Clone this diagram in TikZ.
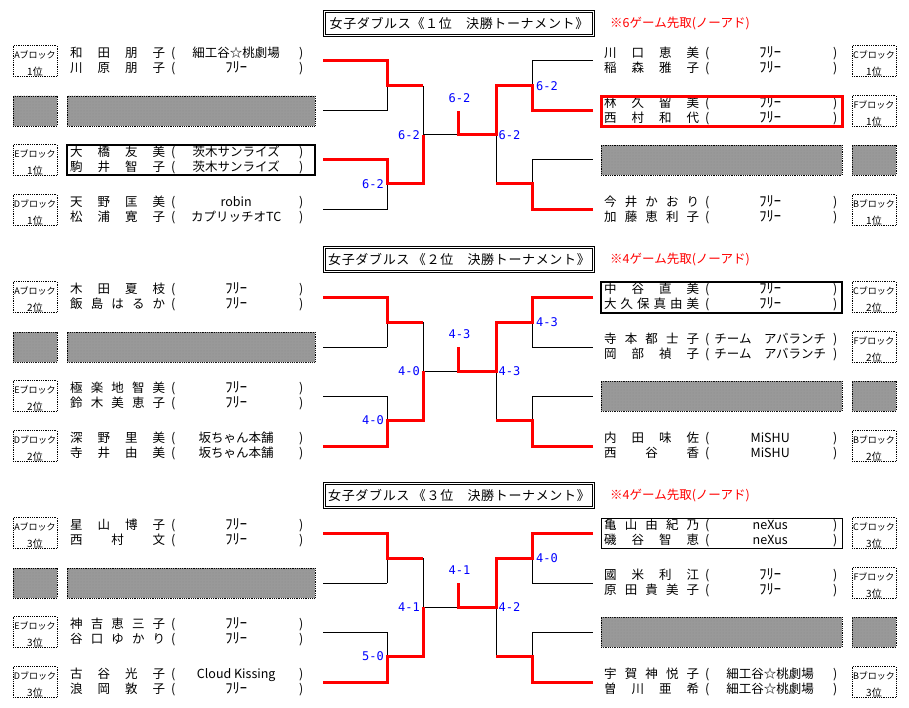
\documentclass[tikz,border=0pt]{standalone}
\usepackage{fontspec}
\usetikzlibrary{patterns}
\setmainfont{Noto Sans CJK JP}
\setmonofont{DejaVu Sans Mono}
\newfontfamily\ttlfont[LetterSpace=5]{Noto Sans CJK JP}

\definecolor{winred}{RGB}{255,0,0}
\definecolor{scoreblue}{RGB}{0,0,255}
\definecolor{slotgray}{RGB}{153,153,153}

\tikzset{
  lose/.style={line width=1pt},
  win/.style={line width=3pt, winred},
  blk/.style={draw, densely dotted, line width=0.8pt, minimum width=44pt, minimum height=29pt,
    inner sep=0pt, align=center, font=\fontsize{9}{17}\selectfont},
  slot/.style={draw, densely dotted, line width=0.8pt, fill=slotgray, minimum height=30pt, inner sep=0pt,
    postaction={pattern=dots, pattern color=black!45}},
  nm/.style={anchor=west, inner sep=0pt, font=\fontsize{12.5}{13}\selectfont},
  sco/.style={inner sep=0pt, text=scoreblue, font=\fontsize{12}{12}\ttfamily},
  ttl/.style={draw, double, double distance=1.5pt, line width=0.7pt, minimum width=269pt,
    minimum height=24pt, inner sep=0pt, font=\fontsize{13}{13}\ttlfont},
  memo/.style={anchor=west, inner sep=0pt, text=winred, font=\fontsize{12.5}{13}\selectfont},
  teambox/.style={draw, minimum width=241pt, minimum height=30pt, inner sep=0pt},
}

% half-width "free", set a little larger
\newcommand{\furi}{{\fontsize{14.5}{14}\selectfont ﾌﾘｰ}}
% one line of a pair: name, club
\newcommand{\entry}[2]{\makebox[95pt][s]{#1}\makebox[16pt]{(}\makebox[110pt]{#2}\makebox[20pt]{)}}
% a pair: id, left x, centre y, name1, club1, name2, club2
\newcommand{\team}[7]{%
  \node[nm] (#1a) at ({#2+3},{#3-7.5}) {\entry{#4}{#5}};
  \node[nm] (#1b) at ({#2+3},{#3+7.5}) {\entry{#6}{#7}};
}

\begin{document}
\begin{tikzpicture}[x=1pt,y=-1pt]
  \useasboundingbox (0,0) rectangle (909,708);

  % the three brackets share one frame
  \foreach \s/\rk/\gm/\lw/\rw/\fin/\lsf/\lqf/\rqf/\rsf/\ttl in {
      0/1/6/3/2/6-2/6-2/6-2/6-2/6-2/女子ダブルス《１位　決勝トーナメント》,
      1/2/4/4/1/4-3/4-0/4-0/4-3/4-3/女子ダブルス 《２位　決勝トーナメント》,
      2/3/4/4/1/4-1/4-1/5-0/4-0/4-2/女子ダブルス 《３位　決勝トーナメント》} {
    \begin{scope}[shift={(0,236*\s)}]
      \node[ttl] (ttl\s) at (459,23.5) {\ttl};
      \node[memo] (memo\s) at (610,23) {※\gm ゲーム先取(ノーアド)};

      \foreach \bl/\y in {A/61,E/160,D/210}
        \node[blk] (blk\bl\s) at (35,\y) {\rule{0pt}{13pt}\bl ブロック\\{\fontsize{10}{17}\selectfont\rk 位}};
      \foreach \bl/\y in {C/61,F/111,B/210}
        \node[blk] (blk\bl\s) at (874,\y) {\rule{0pt}{13pt}\bl ブロック\\{\fontsize{10}{17}\selectfont\rk 位}};
      \node[slot, minimum width=44pt] (lgs\s) at (35,111) {};
      \node[slot, minimum width=248pt] (lgn\s) at (191,111) {};
      \node[slot, minimum width=44pt] (rgs\s) at (874,160) {};
      \node[slot, minimum width=241pt] (rgn\s) at (721.5,160) {};

      \foreach \i/\y in {1/61,2/111,3/160,4/210} {
        \coordinate (L\i) at (323,\y);
        \coordinate (K\i) at (387,\y);
        \coordinate (J\i) at (532,\y);
        \coordinate (R\i) at (593,\y);
      }
      \coordinate (A1) at (387,86);  \coordinate (B1) at (423,86);
      \coordinate (A2) at (387,184); \coordinate (B2) at (423,184);
      \coordinate (D1) at (532,86);  \coordinate (E1) at (496,86);
      \coordinate (D2) at (532,184); \coordinate (E2) at (496,184);
      \coordinate (S) at (423,135);  \coordinate (T) at (496,135);
      \coordinate (C) at (458,135);  \coordinate (M) at (458,111);

      \foreach \i in {1,...,4}
        \draw[lose] (L\i) -- (K\i) (J\i) -- (R\i);
      \draw[lose] (K1) -- (K2) (K3) -- (K4) (J1) -- (J2) (J3) -- (J4)
        (A1) -- (B1) (A2) -- (B2) (D1) -- (E1) (D2) -- (E2)
        (B1) -- (B2) (E1) -- (E2) (S) -- (T);

      \draw[win] (L1) -- (K1) -- (A1) -- (B1);
      \draw[win] (L\lw) -- (K\lw) -- (A2) -- (B2) -- (S);
      \draw[win] (R\rw) -- (J\rw) -- (D1) -- (E1) -- (T) -- (C) -- (M);
      \draw[win] (R4) -- (J4) -- (D2) -- (E2);

      \node[sco] (fin\s) at (459.5,98) {\fin};
      \node[sco, anchor=east] (lsf\s) at (420,135) {\lsf};
      \node[sco, anchor=east] (lqf\s) at (384,184) {\lqf};
      \node[sco, anchor=west] (rqf\s) at (536,86) {\rqf};
      \node[sco, anchor=west] (rsf\s) at (498.5,135) {\rsf};
    \end{scope}
  }

  % 1位
  \team{a1}{67}{61}{和 田 朋 子}{細工谷☆桃劇場}{川 原 朋 子}{\furi}
  \team{e1}{67}{160}{大 橋 友 美}{茨木サンライズ}{駒 井 智 子}{茨木サンライズ}
  \team{d1}{67}{210}{天 野 匡 美}{robin}{松 浦 寛 子}{カプリッチオTC}
  \team{c1}{601}{61}{川 口 恵 美}{\furi}{稲 森 雅 子}{\furi}
  \team{f1}{601}{111}{林 久 留 美}{\furi}{西 村 和 代}{\furi}
  \team{b1}{601}{210}{今 井 か お り}{\furi}{加 藤 恵 利 子}{\furi}
  \node[teambox, line width=2pt, minimum width=248pt] (box1) at (191,160.5) {};
  \node[teambox, line width=3pt, draw=winred] (box2) at (721.5,111.5) {};

  % 2位
  \team{a2}{67}{297}{木 田 夏 枝}{\furi}{飯 島 は る か}{\furi}
  \team{e2}{67}{396}{極 楽 地 智 美}{\furi}{鈴 木 美 恵 子}{\furi}
  \team{d2}{67}{446}{深 野 里 美}{坂ちゃん本舗}{寺 井 由 美}{坂ちゃん本舗}
  \team{c2}{601}{297}{中 谷 直 美}{\furi}{大 久 保 真 由 美}{\furi}
  \team{f2}{601}{347}{寺 本 都 士 子}{チーム　アバランチ}{岡 部 禎 子}{チーム　アバランチ}
  \team{b2}{601}{446}{内 田 味 佐}{MiSHU}{西 谷 香}{MiSHU}
  \node[teambox, line width=2pt] (box3) at (721.5,297.5) {};

  % 3位
  \team{a3}{67}{533}{星 山 博 子}{\furi}{西 村 文}{\furi}
  \team{e3}{67}{632}{神 吉 恵 三 子}{\furi}{谷 口 ゆ か り}{\furi}
  \team{d3}{67}{682}{古 谷 光 子}{Cloud Kissing}{浪 岡 敦 子}{\furi}
  \team{c3}{601}{533}{亀 山 由 紀 乃}{neXus}{磯 谷 智 恵}{neXus}
  \team{f3}{601}{583}{國 米 利 江}{\furi}{原 田 貴 美 子}{\furi}
  \team{b3}{601}{682}{宇 賀 神 悦 子}{細工谷☆桃劇場}{曽 川 亜 希}{細工谷☆桃劇場}
  \node[teambox, line width=1pt] (box4) at (721.5,533) {};
\end{tikzpicture}
\end{document}
